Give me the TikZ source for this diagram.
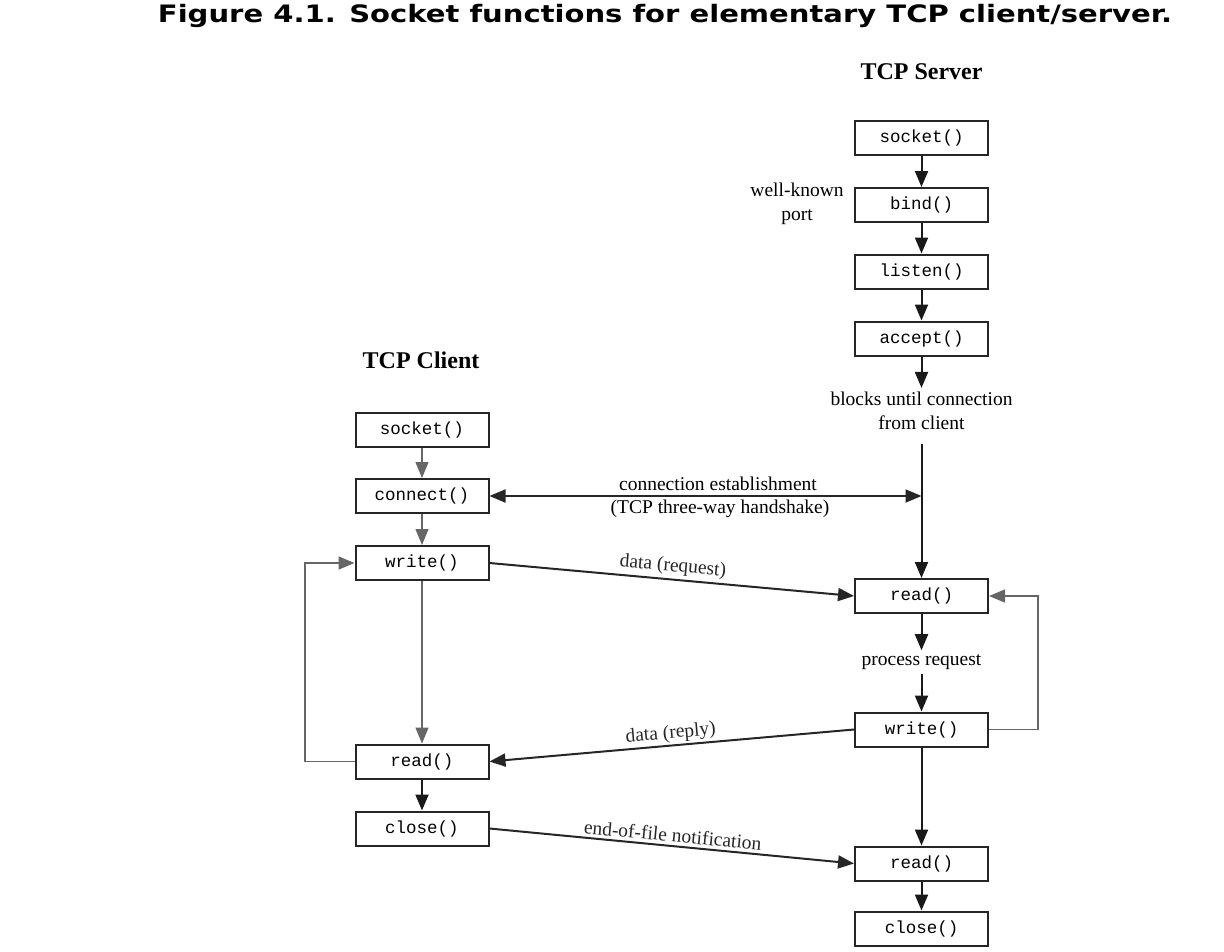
\documentclass[tikz,border=0pt]{standalone}
\usepackage{fontspec}
\usepackage{graphicx}
\setmainfont{Liberation Serif}
\setmonofont{Liberation Mono}
\newfontfamily\capfont{DejaVu Sans}
\usetikzlibrary{arrows.meta}
\begin{document}
\begin{tikzpicture}[x=1pt,y=-1pt,
  fn/.style={draw=black!85, line width=2pt, minimum width=133pt, minimum height=34pt, inner sep=0pt, font=\fontsize{17.5}{20}\ttfamily},
  lbl/.style={font=\fontsize{19.5}{24}\selectfont, inner sep=1pt},
  ttl/.style={font=\fontsize{24}{28}\selectfont\bfseries},
  tip/.style={-{Triangle[length=16pt,width=13pt]}},
  sline/.style={line width=2pt, black!90},
  cline/.style={line width=1.2pt, black!60},
  dline/.style={line width=2pt, black!85}]
\useasboundingbox (0,0) rectangle (1224,951);
\node[font=\capfont\bfseries\fontsize{24}{27}\selectfont] (cap) at (665,16) {\scalebox{1.21}[1]{Figure 4.1. Socket functions for elementary TCP client/server.}};
\node[ttl] (tserv) at (921.5,72) {TCP Server};
\node[ttl] (tcli) at (421,360) {TCP Client};
% server
\node[fn] (ssock) at (921.5,138) {socket()};
\node[fn] (sbind) at (921.5,205) {bind()};
\node[fn] (slist) at (921.5,271.5) {listen()};
\node[fn] (sacc) at (921.5,338.5) {accept()};
\node[fn] (sread) at (921.5,596) {read()};
\node[fn] (swrite) at (921.5,729.5) {write()};
\node[fn] (sread2) at (921.5,863.5) {read()};
\node[fn] (sclose) at (921.5,928.5) {close()};
\node[lbl, align=center] (wk) at (797,204) {well-known\\port};
\node[lbl, align=center, inner sep=4pt] (blk) at (921.5,411) {blocks until connection\\from client};
\node[lbl, inner sep=4pt] (proc) at (921.5,662) {process request};
% client
\node[fn] (csock) at (422,429.5) {socket()};
\node[fn] (cconn) at (422,496) {connect()};
\node[fn] (cwrite) at (422,563) {write()};
\node[fn] (cread) at (422,761.5) {read()};
\node[fn] (cclose) at (422,828.5) {close()};
% server arrows
\draw[sline,tip] (ssock) -- (sbind);
\draw[sline,tip] (sbind) -- (slist);
\draw[sline,tip] (slist) -- (sacc);
\draw[sline,tip] (sacc) -- (blk);
\draw[sline,tip] ([yshift=-10pt]blk.south) -- (sread);
\draw[sline,tip] (sread) -- (proc);
\draw[sline,tip] (proc) -- (swrite);
\draw[sline,tip] (swrite) -- (sread2);
\draw[sline,tip] (sread2) -- (sclose);
\coordinate (rl) at (1038,729.5);
\coordinate (rt) at (1038,596);
\draw[cline,tip, line width=1.5pt] (swrite.east) -- (rl) -- (rt) -- (sread.east);
% client arrows
\draw[cline,tip] (csock) -- (cconn);
\draw[cline,tip] (cconn) -- (cwrite);
\draw[cline,tip] (cwrite) -- (cread);
\draw[sline,tip] (cread) -- (cclose);
\coordinate (ll) at (305,761.5);
\coordinate (lt) at (305,563);
\draw[cline,tip, line width=1.5pt] (cread.west) -- (ll) -- (lt) -- (cwrite.west);
% connection establishment
\coordinate (hs) at (921.5,496);
\draw[dline,{Triangle[length=16pt,width=13pt]}-{Triangle[length=16pt,width=13pt]}] (cconn.east) -- (hs);
\node[lbl] (ce1) at (718,484) {connection establishment};
\node[lbl] (ce2) at (720,509) {(TCP three-way handshake)};
% data
\draw[dline,tip] (cwrite.east) -- node[lbl, above, sloped, inner sep=3pt] {data (request)} (sread.west);
\draw[dline,tip] (swrite.west) -- node[lbl, above, sloped, inner sep=2pt] {data (reply)} (cread.east);
\draw[dline,tip] (cclose.east) -- node[lbl, above, sloped, inner sep=3pt] {end-of-file notification} (sread2.west);
\end{tikzpicture}
\end{document}
